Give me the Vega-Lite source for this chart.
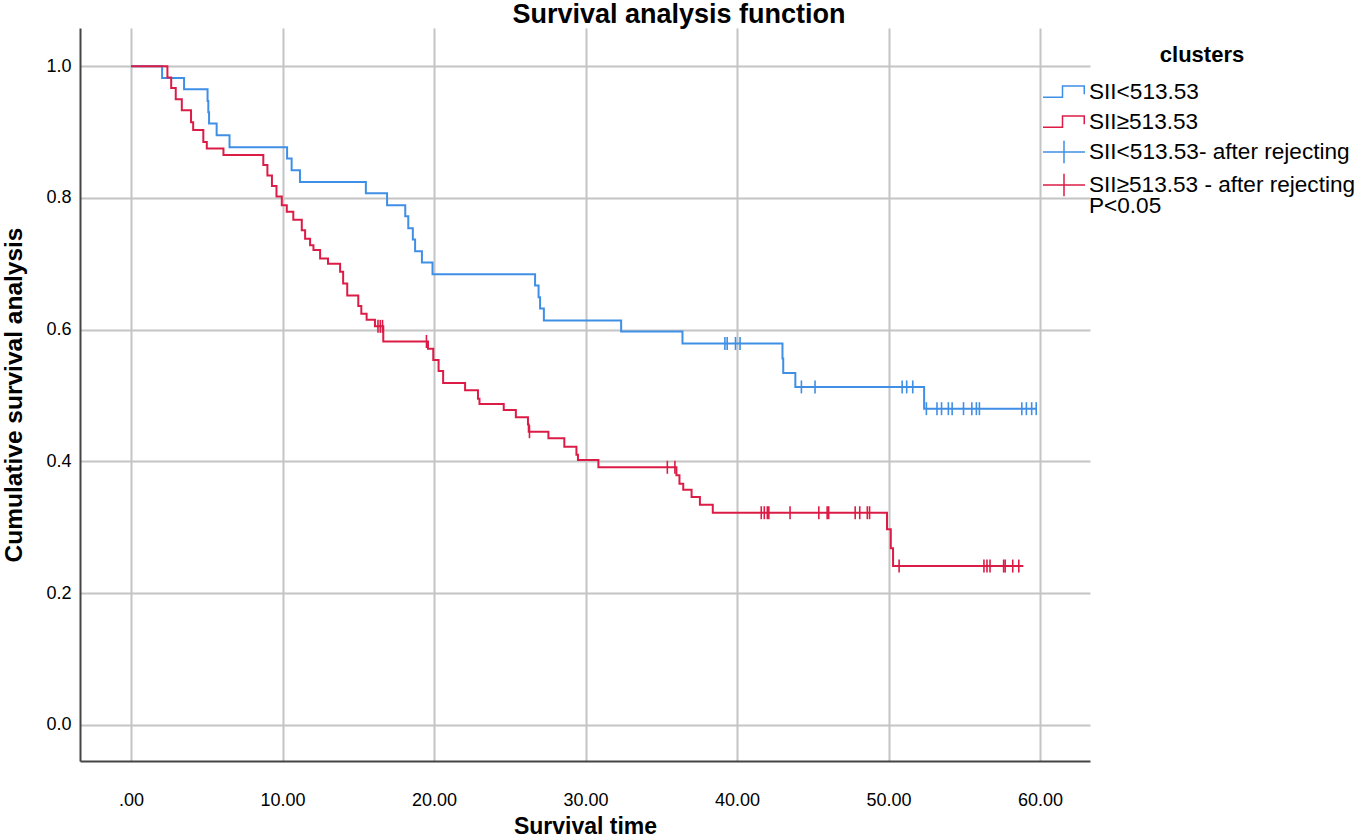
{
  "$schema": "https://vega.github.io/schema/vega-lite/v6.json",
  "width": 1010,
  "height": 733,
  "autosize": {"type": "none"},
  "padding": {"left": 80, "top": 28, "right": 268, "bottom": 77},
  "title": {
    "text": "Survival analysis function",
    "fontSize": 27,
    "font": "Liberation Sans",
    "fontWeight": "bold",
    "color": "#000",
    "anchor": "middle",
    "frame": "bounds",
    "offset": -1
  },
  "config": {
    "view": {"stroke": null},
    "axis": {
      "labelFont": "Liberation Sans",
      "labelFontSize": 18,
      "labelColor": "#000",
      "titleFont": "Liberation Sans",
      "titleFontSize": 23,
      "titleFontWeight": "bold",
      "titleColor": "#000",
      "gridColor": "#c4c4c4",
      "gridWidth": 2,
      "domainColor": "#444",
      "domainWidth": 2,
      "ticks": false
    }
  },
  "datasets": {
    "curves": [
      {"g": "SII<513.53", "t": 0, "s": 1.0},
      {"g": "SII<513.53", "t": 2.05, "s": 0.982},
      {"g": "SII<513.53", "t": 3.5, "s": 0.965},
      {"g": "SII<513.53", "t": 5.05, "s": 0.947},
      {"g": "SII<513.53", "t": 5.1, "s": 0.930},
      {"g": "SII<513.53", "t": 5.15, "s": 0.913},
      {"g": "SII<513.53", "t": 5.65, "s": 0.895},
      {"g": "SII<513.53", "t": 6.5, "s": 0.877},
      {"g": "SII<513.53", "t": 10.3, "s": 0.860},
      {"g": "SII<513.53", "t": 10.6, "s": 0.842},
      {"g": "SII<513.53", "t": 11.15, "s": 0.824},
      {"g": "SII<513.53", "t": 15.5, "s": 0.807},
      {"g": "SII<513.53", "t": 16.9, "s": 0.789},
      {"g": "SII<513.53", "t": 18.1, "s": 0.772},
      {"g": "SII<513.53", "t": 18.3, "s": 0.754},
      {"g": "SII<513.53", "t": 18.6, "s": 0.737},
      {"g": "SII<513.53", "t": 18.75, "s": 0.719},
      {"g": "SII<513.53", "t": 19.2, "s": 0.702},
      {"g": "SII<513.53", "t": 19.9, "s": 0.684},
      {"g": "SII<513.53", "t": 26.67, "s": 0.667},
      {"g": "SII<513.53", "t": 26.9, "s": 0.649},
      {"g": "SII<513.53", "t": 27.0, "s": 0.632},
      {"g": "SII<513.53", "t": 27.25, "s": 0.614},
      {"g": "SII<513.53", "t": 32.35, "s": 0.597},
      {"g": "SII<513.53", "t": 36.4, "s": 0.579},
      {"g": "SII<513.53", "t": 43.0, "s": 0.556},
      {"g": "SII<513.53", "t": 43.05, "s": 0.534},
      {"g": "SII<513.53", "t": 43.85, "s": 0.513},
      {"g": "SII<513.53", "t": 52.35, "s": 0.480},
      {"g": "SII<513.53", "t": 59.8, "s": 0.480},
      {"g": "SII≥513.53", "t": 0, "s": 1.0},
      {"g": "SII≥513.53", "t": 2.4, "s": 0.983},
      {"g": "SII≥513.53", "t": 2.65, "s": 0.967},
      {"g": "SII≥513.53", "t": 2.95, "s": 0.950},
      {"g": "SII≥513.53", "t": 3.35, "s": 0.933},
      {"g": "SII≥513.53", "t": 3.96, "s": 0.915},
      {"g": "SII≥513.53", "t": 4.1, "s": 0.903},
      {"g": "SII≥513.53", "t": 4.77, "s": 0.885},
      {"g": "SII≥513.53", "t": 5.0, "s": 0.875},
      {"g": "SII≥513.53", "t": 6.1, "s": 0.865},
      {"g": "SII≥513.53", "t": 8.73, "s": 0.850},
      {"g": "SII≥513.53", "t": 9.0, "s": 0.834},
      {"g": "SII≥513.53", "t": 9.3, "s": 0.818},
      {"g": "SII≥513.53", "t": 9.6, "s": 0.802},
      {"g": "SII≥513.53", "t": 9.95, "s": 0.789},
      {"g": "SII≥513.53", "t": 10.28, "s": 0.779},
      {"g": "SII≥513.53", "t": 10.71, "s": 0.767},
      {"g": "SII≥513.53", "t": 11.27, "s": 0.751},
      {"g": "SII≥513.53", "t": 11.49, "s": 0.738},
      {"g": "SII≥513.53", "t": 11.82, "s": 0.728},
      {"g": "SII≥513.53", "t": 12.04, "s": 0.721},
      {"g": "SII≥513.53", "t": 12.48, "s": 0.708},
      {"g": "SII≥513.53", "t": 13.0, "s": 0.700},
      {"g": "SII≥513.53", "t": 13.8, "s": 0.688},
      {"g": "SII≥513.53", "t": 14.0, "s": 0.670},
      {"g": "SII≥513.53", "t": 14.27, "s": 0.652},
      {"g": "SII≥513.53", "t": 15.0, "s": 0.636},
      {"g": "SII≥513.53", "t": 15.2, "s": 0.624},
      {"g": "SII≥513.53", "t": 15.55, "s": 0.615},
      {"g": "SII≥513.53", "t": 16.1, "s": 0.605},
      {"g": "SII≥513.53", "t": 16.65, "s": 0.582},
      {"g": "SII≥513.53", "t": 19.6, "s": 0.571},
      {"g": "SII≥513.53", "t": 19.95, "s": 0.554},
      {"g": "SII≥513.53", "t": 20.3, "s": 0.537},
      {"g": "SII≥513.53", "t": 20.6, "s": 0.519},
      {"g": "SII≥513.53", "t": 22.05, "s": 0.508},
      {"g": "SII≥513.53", "t": 22.9, "s": 0.495},
      {"g": "SII≥513.53", "t": 23.0, "s": 0.487},
      {"g": "SII≥513.53", "t": 24.6, "s": 0.478},
      {"g": "SII≥513.53", "t": 25.4, "s": 0.467},
      {"g": "SII≥513.53", "t": 26.2, "s": 0.456},
      {"g": "SII≥513.53", "t": 26.25, "s": 0.445},
      {"g": "SII≥513.53", "t": 27.55, "s": 0.435},
      {"g": "SII≥513.53", "t": 28.6, "s": 0.422},
      {"g": "SII≥513.53", "t": 29.4, "s": 0.410},
      {"g": "SII≥513.53", "t": 29.5, "s": 0.402},
      {"g": "SII≥513.53", "t": 30.85, "s": 0.391},
      {"g": "SII≥513.53", "t": 36.0, "s": 0.379},
      {"g": "SII≥513.53", "t": 36.2, "s": 0.366},
      {"g": "SII≥513.53", "t": 36.45, "s": 0.357},
      {"g": "SII≥513.53", "t": 37.0, "s": 0.346},
      {"g": "SII≥513.53", "t": 37.55, "s": 0.334},
      {"g": "SII≥513.53", "t": 38.4, "s": 0.322},
      {"g": "SII≥513.53", "t": 49.9, "s": 0.297},
      {"g": "SII≥513.53", "t": 50.15, "s": 0.268},
      {"g": "SII≥513.53", "t": 50.3, "s": 0.241},
      {"g": "SII≥513.53", "t": 58.9, "s": 0.241}
    ],
    "censored": [
      {"g": "SII<513.53- after rejecting", "t": 39.2, "s": 0.579},
      {"g": "SII<513.53- after rejecting", "t": 39.35, "s": 0.579},
      {"g": "SII<513.53- after rejecting", "t": 39.9, "s": 0.579},
      {"g": "SII<513.53- after rejecting", "t": 40.2, "s": 0.579},
      {"g": "SII<513.53- after rejecting", "t": 44.25, "s": 0.513},
      {"g": "SII<513.53- after rejecting", "t": 45.15, "s": 0.513},
      {"g": "SII<513.53- after rejecting", "t": 50.9, "s": 0.513},
      {"g": "SII<513.53- after rejecting", "t": 51.2, "s": 0.513},
      {"g": "SII<513.53- after rejecting", "t": 51.6, "s": 0.513},
      {"g": "SII<513.53- after rejecting", "t": 52.5, "s": 0.480},
      {"g": "SII<513.53- after rejecting", "t": 53.2, "s": 0.480},
      {"g": "SII<513.53- after rejecting", "t": 53.5, "s": 0.480},
      {"g": "SII<513.53- after rejecting", "t": 53.95, "s": 0.480},
      {"g": "SII<513.53- after rejecting", "t": 54.2, "s": 0.480},
      {"g": "SII<513.53- after rejecting", "t": 54.95, "s": 0.480},
      {"g": "SII<513.53- after rejecting", "t": 55.5, "s": 0.480},
      {"g": "SII<513.53- after rejecting", "t": 55.8, "s": 0.480},
      {"g": "SII<513.53- after rejecting", "t": 56.0, "s": 0.480},
      {"g": "SII<513.53- after rejecting", "t": 58.8, "s": 0.480},
      {"g": "SII<513.53- after rejecting", "t": 59.1, "s": 0.480},
      {"g": "SII<513.53- after rejecting", "t": 59.45, "s": 0.480},
      {"g": "SII<513.53- after rejecting", "t": 59.75, "s": 0.480},
      {"g": "SII≥513.53 - after rejecting", "t": 16.3, "s": 0.605},
      {"g": "SII≥513.53 - after rejecting", "t": 16.45, "s": 0.605},
      {"g": "SII≥513.53 - after rejecting", "t": 16.6, "s": 0.605},
      {"g": "SII≥513.53 - after rejecting", "t": 19.5, "s": 0.582},
      {"g": "SII≥513.53 - after rejecting", "t": 26.3, "s": 0.445},
      {"g": "SII≥513.53 - after rejecting", "t": 35.4, "s": 0.391},
      {"g": "SII≥513.53 - after rejecting", "t": 35.9, "s": 0.391},
      {"g": "SII≥513.53 - after rejecting", "t": 41.6, "s": 0.322},
      {"g": "SII≥513.53 - after rejecting", "t": 41.8, "s": 0.322},
      {"g": "SII≥513.53 - after rejecting", "t": 42.0, "s": 0.322},
      {"g": "SII≥513.53 - after rejecting", "t": 42.1, "s": 0.322},
      {"g": "SII≥513.53 - after rejecting", "t": 43.5, "s": 0.322},
      {"g": "SII≥513.53 - after rejecting", "t": 45.4, "s": 0.322},
      {"g": "SII≥513.53 - after rejecting", "t": 45.95, "s": 0.322},
      {"g": "SII≥513.53 - after rejecting", "t": 46.05, "s": 0.322},
      {"g": "SII≥513.53 - after rejecting", "t": 47.8, "s": 0.322},
      {"g": "SII≥513.53 - after rejecting", "t": 48.1, "s": 0.322},
      {"g": "SII≥513.53 - after rejecting", "t": 48.6, "s": 0.322},
      {"g": "SII≥513.53 - after rejecting", "t": 48.75, "s": 0.322},
      {"g": "SII≥513.53 - after rejecting", "t": 50.7, "s": 0.241},
      {"g": "SII≥513.53 - after rejecting", "t": 56.3, "s": 0.241},
      {"g": "SII≥513.53 - after rejecting", "t": 56.5, "s": 0.241},
      {"g": "SII≥513.53 - after rejecting", "t": 56.7, "s": 0.241},
      {"g": "SII≥513.53 - after rejecting", "t": 57.6, "s": 0.241},
      {"g": "SII≥513.53 - after rejecting", "t": 57.7, "s": 0.241},
      {"g": "SII≥513.53 - after rejecting", "t": 58.2, "s": 0.241},
      {"g": "SII≥513.53 - after rejecting", "t": 58.6, "s": 0.241}
    ]
  },
  "encoding": {
    "x": {
      "field": "t",
      "type": "quantitative",
      "title": "Survival time",
      "scale": {"domain": [-3.37, 63.3], "nice": false, "zero": false},
      "axis": {
        "values": [0, 10, 20, 30, 40, 50, 60],
        "labelExpr": "datum.value == 0 ? '.00' : format(datum.value, '.2f')",
        "labelPadding": 30,
        "titlePadding": 6
      }
    },
    "y": {
      "field": "s",
      "type": "quantitative",
      "title": "Cumulative survival analysis",
      "scale": {"domain": [-0.055, 1.058], "nice": false, "zero": false},
      "axis": {
        "values": [0, 0.2, 0.4, 0.6, 0.8, 1.0],
        "format": ".1f",
        "labelPadding": 9,
        "titlePadding": 19,
        "titleFontSize": 24.5
      }
    },
    "color": {
      "field": "g",
      "type": "nominal",
      "scale": {
        "domain": ["SII<513.53", "SII≥513.53", "SII<513.53- after rejecting", "SII≥513.53 - after rejecting"],
        "range": ["#3f8fe6", "#dc1c46", "#3f8fe6", "#dc1c46"]
      },
      "legend": {
        "orient": "none",
        "legendX": 968,
        "legendY": 17,
        "direction": "vertical",
        "columns": 1,
        "title": "clusters",
        "titleFont": "Liberation Sans",
        "titleFontSize": 22,
        "titleFontWeight": "bold",
        "titleColor": "#000",
        "titleAnchor": "middle",
        "titlePadding": 9,
        "labelFont": "Liberation Sans",
        "labelFontSize": 22.6,
        "labelColor": "#000",
        "labelLimit": 400,
        "labelOffset": 9,
        "symbolSize": 900,
        "symbolStrokeWidth": 1.5,
        "rowPadding": 2,
        "labelExpr": "datum.value == 'SII≥513.53 - after rejecting' ? ['SII≥513.53 - after rejecting', 'P<0.05'] : datum.label",
        "encode": {
          "symbols": {
            "update": {
              "shape": {"signal": "datum.index < 2 ? 'M-1.4,0.35H-0.1V-0.4H1.35V0.15' : 'M-1.4,0H1.4M0,-0.75V0.75'"},
              "fill": {"value": "transparent"}
            }
          },
          "labels": {
            "update": {
              "lineHeight": {"value": 21}
            }
          }
        }
      }
    }
  },
  "layer": [
    {
      "data": {"name": "curves"},
      "mark": {"type": "line", "interpolate": "step-after", "strokeWidth": 2}
    },
    {
      "data": {"name": "censored"},
      "mark": {"type": "point", "shape": "M0,-1V1", "size": 169, "strokeWidth": 1.6, "filled": false, "opacity": 1}
    }
  ]
}
